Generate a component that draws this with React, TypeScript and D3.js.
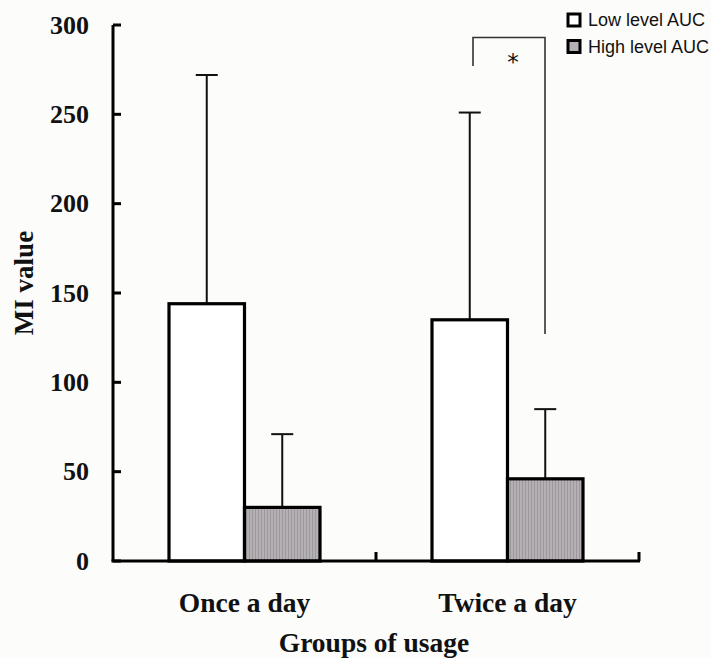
import React, { useEffect, useRef } from 'react';
import * as d3 from 'd3';

const groups = ['Once a day', 'Twice a day'];
const series = ['Low level AUC', 'High level AUC'];
const means = [
  [144, 30],
  [135, 46],
];
const upperErr = [
  [272, 71],
  [251, 85],
];
const yTicks = [0, 50, 100, 150, 200, 250, 300];

const W = 711;
const H = 658;
const serif = '"Liberation Serif", "Times New Roman", serif';

const App = () => {
  const svgRef = useRef<SVGSVGElement | null>(null);

  useEffect(() => {
    const svg = d3.select(svgRef.current);
    svg.selectAll('*').remove();

    svg.append('rect').attr('width', W).attr('height', H).attr('fill', '#fcfcfa');

    const defs = svg.append('defs');
    const pat = defs.append('pattern')
      .attr('id', 'hatch')
      .attr('patternUnits', 'userSpaceOnUse')
      .attr('width', 3)
      .attr('height', 10);
    pat.append('rect').attr('width', 3).attr('height', 10).attr('fill', '#b4b0b4');
    pat.append('rect').attr('width', 1).attr('height', 10).attr('fill', '#9c989c');

    const x0 = d3.scaleBand().domain(groups).range([113, 639]).paddingInner(0).paddingOuter(0);
    const y = d3.scaleLinear().domain([0, 300]).range([561, 25]);
    const barW = 75.5;

    // bars + error bars
    groups.forEach((gName, gi) => {
      const cx = (x0(gName) as number) + x0.bandwidth() / 2;
      series.forEach((s, si) => {
        const xl = si === 0 ? cx - barW : cx;
        const xm = xl + barW / 2;
        svg.append('line')
          .attr('x1', xm).attr('x2', xm)
          .attr('y1', y(means[gi][si])).attr('y2', y(upperErr[gi][si]))
          .attr('stroke', '#111').attr('stroke-width', 2);
        svg.append('line')
          .attr('x1', xm - 11).attr('x2', xm + 11)
          .attr('y1', y(upperErr[gi][si])).attr('y2', y(upperErr[gi][si]))
          .attr('stroke', '#111').attr('stroke-width', 2);
        svg.append('rect')
          .attr('x', xl).attr('width', barW)
          .attr('y', y(means[gi][si]))
          .attr('height', y(0) - y(means[gi][si]))
          .attr('fill', si === 0 ? '#ffffff' : 'url(#hatch)')
          .attr('stroke', '#000').attr('stroke-width', 3.2);
      });
    });

    // axes
    svg.append('line').attr('x1', 113).attr('x2', 113).attr('y1', y(300)).attr('y2', y(0))
      .attr('stroke', '#000').attr('stroke-width', 3);
    svg.append('line').attr('x1', 111.5).attr('x2', 640).attr('y1', y(0)).attr('y2', y(0))
      .attr('stroke', '#000').attr('stroke-width', 3);
    yTicks.forEach(t => {
      svg.append('line').attr('x1', 113).attr('x2', 121).attr('y1', y(t)).attr('y2', y(t))
        .attr('stroke', '#000').attr('stroke-width', 3);
      svg.append('text')
        .attr('x', 89).attr('y', y(t)).attr('dy', '0.33em')
        .attr('text-anchor', 'end')
        .style('font-family', serif)
        .style('font-weight', 'bold').style('font-size', '26px')
        .attr('fill', '#111')
        .text(t);
    });
    [x0(groups[1]) as number, 639].forEach(xv => {
      svg.append('line').attr('x1', xv).attr('x2', xv).attr('y1', y(0)).attr('y2', y(0) - 9)
        .attr('stroke', '#000').attr('stroke-width', 3);
    });

    groups.forEach(gName => {
      svg.append('text')
        .attr('x', (x0(gName) as number) + x0.bandwidth() / 2)
        .attr('y', 612)
        .attr('text-anchor', 'middle')
        .style('font-family', serif)
        .style('font-weight', 'bold').style('font-size', '27.5px')
        .attr('fill', '#111')
        .text(gName);
    });

    svg.append('text')
      .attr('x', 374).attr('y', 652)
      .attr('text-anchor', 'middle')
      .style('font-family', serif)
      .style('font-weight', 'bold').style('font-size', '27.5px')
      .attr('fill', '#111')
      .text('Groups of usage');

    svg.append('text')
      .attr('transform', `translate(33, 283) rotate(-90)`)
      .attr('text-anchor', 'middle')
      .style('font-family', serif)
      .style('font-weight', 'bold').style('font-size', '27px')
      .attr('fill', '#111')
      .text('MI value');

    // significance bracket
    const bx1 = 473;
    const bx2 = 545;
    svg.append('path')
      .attr('d', `M${bx1},${y(277)} V${y(293)} H${bx2} V${y(127)}`)
      .attr('fill', 'none').attr('stroke', '#333').attr('stroke-width', 1.6);
    svg.append('text')
      .attr('x', 513).attr('y', 70)
      .attr('text-anchor', 'middle')
      .style('font-family', '"DejaVu Sans", sans-serif')
      .style('font-size', '23px')
      .attr('fill', '#111')
      .text('*');

    // legend
    series.forEach((s, i) => {
      const ly = 20 + i * 26.5;
      svg.append('rect')
        .attr('x', 568).attr('y', ly - 6).attr('width', 12).attr('height', 12)
        .attr('fill', i === 0 ? '#fff' : '#b4b0b4')
        .attr('stroke', '#000').attr('stroke-width', 3);
      svg.append('text')
        .attr('x', 588).attr('y', ly).attr('dy', '0.35em')
        .style('font-family', '"Liberation Sans", Arial, sans-serif')
        .style('font-size', '18px')
        .attr('fill', '#111')
        .text(s);
    });
  }, []);

  return (
    <div style={{ position: 'fixed', left: 0, top: 0 }}>
      <svg ref={svgRef} width={W} height={H} style={{ display: 'block' }} />
    </div>
  );
};

export default App;
